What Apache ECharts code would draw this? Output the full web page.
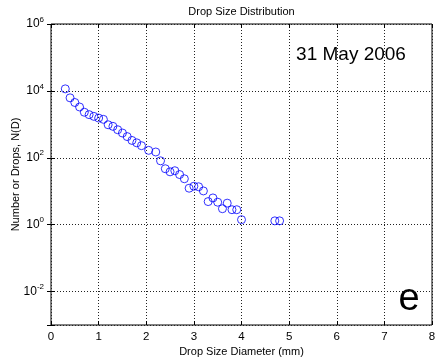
<!DOCTYPE html>
<html>
<head>
<meta charset="utf-8">
<script src="https://cdn.jsdelivr.net/npm/echarts@6/dist/echarts.min.js"></script>
<style>
html,body{margin:0;padding:0;background:#fff;}
#chart{width:435px;height:362px;}
</style>
</head>
<body>
<div id="chart"></div>
<script>
// Drop diameters (mm)
const diameters = [0.3,0.4,0.5,0.6,0.7,0.8,0.9,1.0,1.1,1.2,1.3,1.4,1.5,1.6,1.7,1.8,1.9,2.05,2.2,2.3,2.4,2.5,2.6,2.7,2.8,2.9,3.0,3.1,3.2,3.3,3.4,3.5,3.6,3.7,3.8,3.9,4.0,4.7,4.8];
// Number of drops N(D)
const counts = [11500,6200,4500,3300,2300,1950,1730,1540,1410,970,870,690,550,430,330,280,230,167,149,81,47,38,41,31.5,23.6,12.3,14.1,13.6,10.2,4.9,6.3,4.7,3.0,4.4,2.8,2.8,1.41,1.3,1.3];
const xTicks = [0,1,2,3,4,5,6,7,8];
const titleText = 'Drop Size Distribution';
const xName = 'Drop Size Diameter (mm)';
const yName = 'Number or Drops, N(D)';
const dateText = '31 May 2006';
const panelText = 'e';

const FONT = 'Liberation Sans, Arial, Helvetica, sans-serif';
const chart = echarts.init(document.getElementById('chart'));

function logLabel(value) {
  const lg = Math.log10(value);
  const e = Math.round(lg);
  if (Math.abs(lg - e) > 1e-6 || e % 2 !== 0) return '';
  return '{b|10}{s|' + e + '}';
}

const gridLine = { show: true, lineStyle: { color: '#222', width: 1, type: [1, 2] } };

chart.setOption({
  backgroundColor: '#fff',
  animation: false,
  grid: { left: 51, right: 3, top: 24, bottom: 37, outerBoundsMode: 'none', containLabel: false, show: true, borderColor: '#000', borderWidth: 1, backgroundColor: 'transparent' },
  xAxis: [{
    type: 'value', min: xTicks[0], max: xTicks[xTicks.length - 1], interval: 1,
    name: xName, nameLocation: 'middle', nameGap: 21, nameMoveOverlap: false,
    nameTextStyle: { fontFamily: FONT, fontSize: 11, color: '#000' },
    axisLine: { show: false },
    axisTick: { show: true, inside: true, length: 4, lineStyle: { color: '#000' } },
    axisLabel: { margin: 6, fontFamily: FONT, fontSize: 11.5, color: '#000' },
    splitLine: gridLine
  }, {
    type: 'value', position: 'top', min: xTicks[0], max: xTicks[xTicks.length - 1], interval: 1,
    axisLine: { show: false },
    axisTick: { show: true, inside: true, length: 4, lineStyle: { color: '#000' } },
    axisLabel: { show: false }, splitLine: { show: false }
  }],
  yAxis: [{
    type: 'log', logBase: 100, min: 0.001, max: 1e6,
    name: yName, nameLocation: 'middle', nameGap: 30, nameRotate: 90, nameMoveOverlap: false,
    nameTextStyle: { fontFamily: FONT, fontSize: 11, color: '#000' },
    axisLine: { show: false },
    axisTick: { show: true, inside: true, length: 4, lineStyle: { color: '#000' } },
    axisLabel: {
      margin: 7, formatter: logLabel, color: '#000',
      rich: {
        b: { fontFamily: FONT, fontSize: 12, color: '#000' },
        s: { fontFamily: FONT, fontSize: 8, color: '#000', verticalAlign: 'top', padding: [0, 0, 9, 0] }
      }
    },
    splitLine: gridLine
  }, {
    type: 'log', logBase: 100, min: 0.001, max: 1e6, position: 'right',
    axisLine: { show: false },
    axisTick: { show: true, inside: true, length: 4, lineStyle: { color: '#000' } },
    axisLabel: { show: false }, splitLine: { show: false }
  }],
  series: [{
    type: 'scatter',
    data: diameters.map((d, i) => [d, counts[i]]),
    symbol: 'circle', symbolSize: 8,
    itemStyle: { color: 'rgba(0,0,0,0)', borderColor: '#0000ff', borderWidth: 1 },
    emphasis: { disabled: true }
  }],
  graphic: [
    { type: 'text', x: 241.5, y: 12, style: { text: titleText, fontFamily: FONT, fontSize: 11, fill: '#000', align: 'center', verticalAlign: 'middle' } },
    { type: 'text', x: 351, y: 55, style: { text: dateText, fontFamily: FONT, fontSize: 19, fill: '#000', align: 'center', verticalAlign: 'middle' } },
    { type: 'text', x: 409, y: 300, style: { text: panelText, fontFamily: FONT, fontSize: 38, fill: '#000', align: 'center', verticalAlign: 'middle' } }
  ]
});
</script>
</body>
</html>
